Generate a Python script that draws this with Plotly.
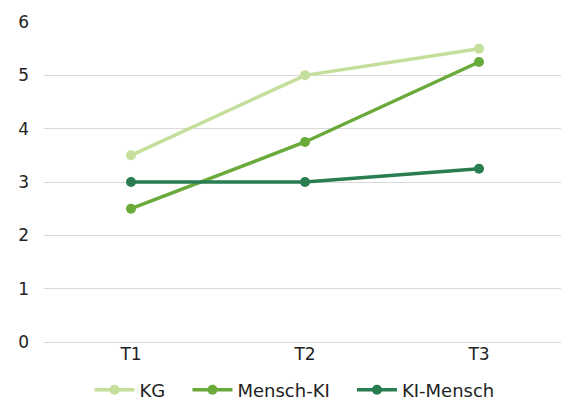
import plotly.graph_objects as go

categories = ["T1", "T2", "T3"]
kg = [3.5, 5.0, 5.5]
mensch_ki = [2.5, 3.75, 5.25]
ki_mensch = [3.0, 3.0, 3.25]

series = [
    ("KG", kg, "#c4df9b"),
    ("Mensch-KI", mensch_ki, "#6aaa3a"),
    ("KI-Mensch", ki_mensch, "#2a7d50"),
]

pad = "\u00a0" * 3

fig = go.Figure()
for i, (name, vals, col) in enumerate(series):
    label = name + (pad if i < len(series) - 1 else "")
    fig.add_trace(go.Scatter(
        x=categories, y=vals, name=label, mode="lines+markers",
        line=dict(color=col, width=3.5),
        marker=dict(color=col, size=10),
    ))

fig.update_layout(
    width=561, height=397,
    margin=dict(l=36, r=3, t=14, b=63, autoexpand=False),
    paper_bgcolor="white", plot_bgcolor="white",
    font=dict(family="DejaVu Sans, sans-serif", size=17, color="#222222"),
    showlegend=True,
    legend=dict(orientation="h", x=0.48, xanchor="center", y=-0.15, yanchor="middle",
                font=dict(size=18), itemwidth=40, tracegroupgap=0),
    xaxis=dict(type="category", range=[-0.5, 2.5], showgrid=False, showline=False,
               zeroline=False, ticks="", tickfont=dict(size=17)),
    yaxis=dict(range=[0, 6], dtick=1, showgrid=True, gridcolor="#d9d9d9", gridwidth=1,
               zeroline=True, zerolinecolor="#d9d9d9", zerolinewidth=1,
               showline=False, ticks="", ticklabelstandoff=14,
               tickfont=dict(size=17)),
)

fig.write_html("out.html")
